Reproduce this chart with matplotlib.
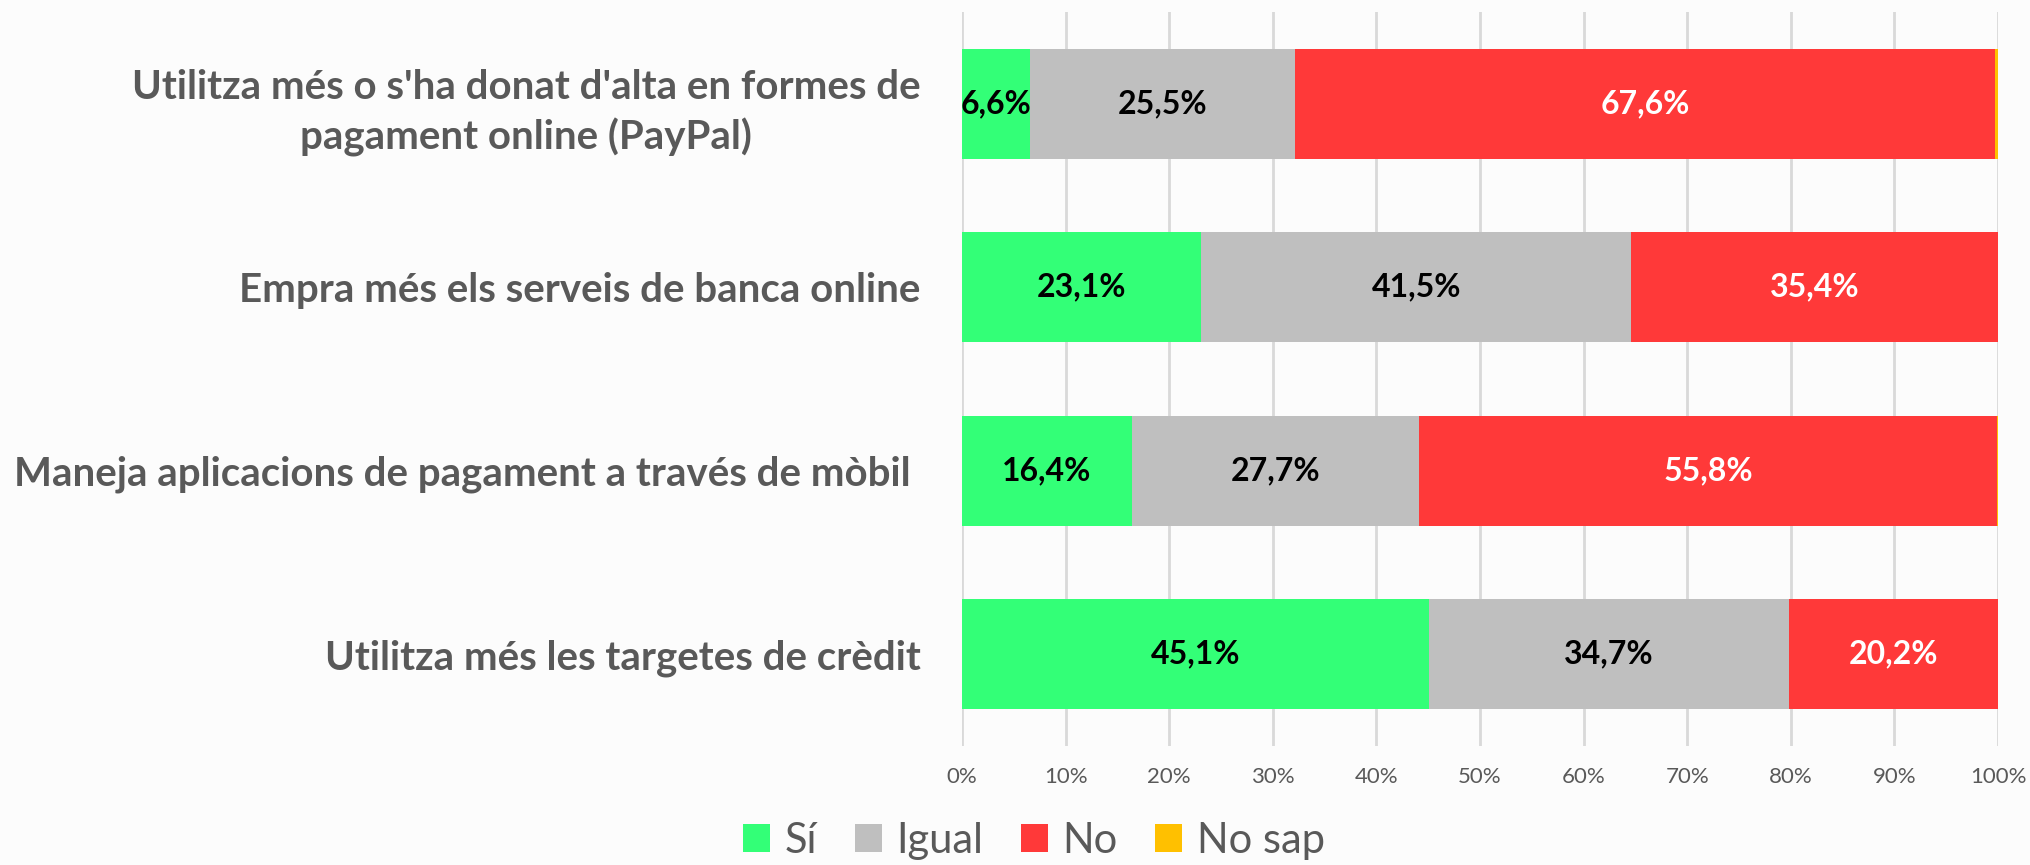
import matplotlib.pyplot as plt
import numpy as np

plt.rcParams['font.family'] = ['Lato', 'DejaVu Sans']

categories = ["Utilitza més o s'ha donat d'alta en formes de\npagament online (PayPal)",
              "Empra més els serveis de banca online",
              "Maneja aplicacions de pagament a través de mòbil ",
              "Utilitza més les targetes de crèdit"]
series = ["Sí", "Igual", "No", "No sap"]
si = [6.6, 23.1, 16.4, 45.1]
igual = [25.5, 41.5, 27.7, 34.7]
no = [67.6, 35.4, 55.8, 20.2]
nosap = [0.3, 0.0, 0.1, 0.0]

colors = ['#33FF77', '#BFBFBF', '#FF3939', '#FFC000']
label_colors = ['black', 'black', 'white', None]
grey_txt = '#595959'
bg = '#FCFCFC'

fig = plt.figure(figsize=(20.31, 8.65), dpi=100, facecolor=bg)
ax = fig.add_axes([0.4737, 0.1376, 0.5101, 0.8485], facecolor=bg)

y = np.arange(len(categories))
left = np.zeros(len(categories))
for name, vals, c, lc in zip(series, [si, igual, no, nosap], colors, label_colors):
    vals = np.array(vals) / 100
    ax.barh(y, vals, left=left, height=0.6, color=c, label=name, zorder=3)
    if lc is not None:
        for yi, (l, v) in enumerate(zip(left, vals)):
            if v > 0:
                txt = f"{v*100:.1f}%".replace('.', ',')
                ax.text(l + v / 2, yi, txt, ha='center', va='center',
                        fontsize=23, fontweight='bold', color=lc, zorder=4)
    left += vals

ax.set_xlim(0, 1)
ax.set_ylim(len(categories) - 0.5, -0.5)
ax.set_xticks(np.arange(0, 1.01, 0.1))
ax.set_xticklabels([f"{int(round(t*100))}%" for t in np.arange(0, 1.01, 0.1)],
                   fontsize=16, color=grey_txt)
ax.grid(axis='x', color='#D9D9D9', linewidth=2, zorder=0)
ax.tick_params(axis='x', length=0, pad=15)
ax.tick_params(axis='y', length=0, pad=30)
ax.set_yticks(y)
ax.set_yticklabels(categories, fontsize=29, fontweight='bold', color=grey_txt,
                   multialignment='center', linespacing=1.35)
for s in ax.spines.values():
    s.set_visible(False)

fig.legend(loc='lower center', bbox_to_anchor=(0.509, -0.037), ncol=4, frameon=False,
           fontsize=30, labelcolor=grey_txt, handlelength=0.65, handleheight=0.65,
           handletextpad=0.35, columnspacing=0.9)

fig.savefig('out.png', dpi=100, facecolor=bg)
